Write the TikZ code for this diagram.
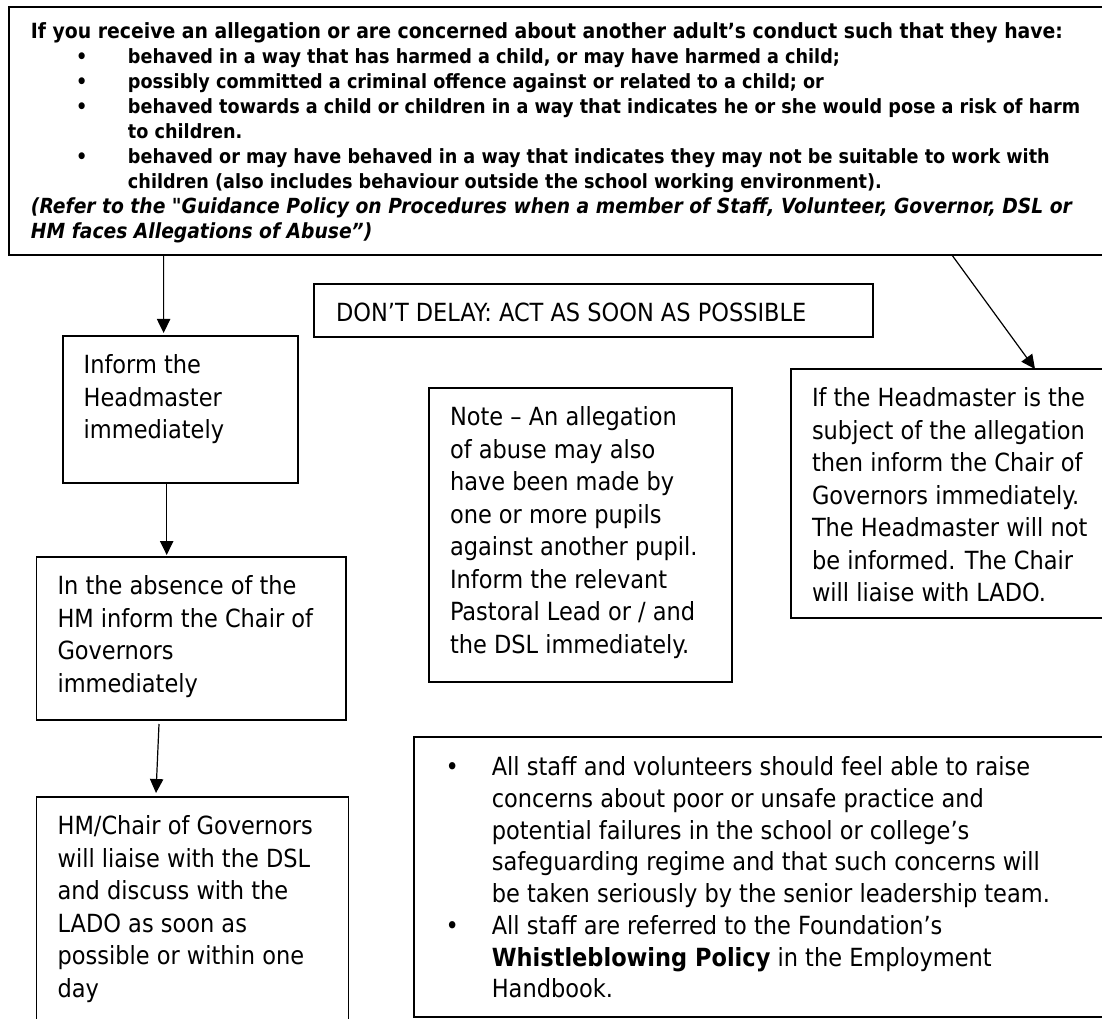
\documentclass[tikz,border=0pt]{standalone}
\usepackage{fontspec}
\setmainfont{DejaVu Sans Condensed}[Ligatures=TeXOff]
\usetikzlibrary{arrows.meta, calc}
\newlength{\px}
\setlength{\px}{0.75pt}
% text box: width, height, lines (top aligned)
\newcommand{\boxtext}[3]{\parbox[c][#2\px][t]{#1\px}{\vspace*{15\px}\strut #3}}
\newenvironment{dotlist}[2]{\begin{list}{\textbullet}{\setlength{\leftmargin}{#1\px}\setlength{\labelwidth}{#2\px}\setlength{\labelsep}{0pt}\setlength{\itemsep}{0pt}\setlength{\parsep}{0pt}\setlength{\topsep}{0pt}\setlength{\partopsep}{0pt}\renewcommand{\makelabel}[1]{##1\hfil}}}{\end{list}}

\begin{document}
\begin{tikzpicture}[x=0.75pt, y=-0.75pt, every node/.style={font=\fontsize{18.75pt}{24.4pt}\selectfont}]
  % Styles
  \tikzstyle{box} = [rectangle, draw, line width=1.25pt, anchor=north west, inner xsep=21\px, inner ysep=0pt, outer sep=0pt]
  \tikzstyle{arrow} = [line width=0.9pt, -{Triangle[length=10.5pt, width=10pt]}]

  \clip (0,0) rectangle (1102,1019);

  % Allegation
  \node (allegation) [box, line width=1.7pt, inner xsep=22\px] at (9,6.7) {\parbox[c][248\px][t]{1180\px}{\vspace*{14.5\px}\fontsize{15.7pt}{18.75pt}\selectfont\bfseries\strut If you receive an allegation or are concerned about another adult’s conduct such that they have:
    \fontsize{14.7pt}{18.75pt}\selectfont
    \begin{dotlist}{97}{52}
      \item behaved in a way that has harmed a child, or may have harmed a child;
      \item possibly committed a criminal offence against or related to a child; or
      \item behaved towards a child or children in a way that indicates he or she would pose a risk of harm\\ to children.
      \item behaved or may have behaved in a way that indicates they may not be suitable to work with\\ children (also includes behaviour outside the school working environment).
    \end{dotlist}
    {\fontsize{15.6pt}{18.75pt}\selectfont\itshape (Refer to the "Guidance Policy on Procedures when a member of Staff, Volunteer, Governor, DSL or\\ HM faces Allegations of Abuse”)}}};

  % Left column
  \node (hm) [box] at (62.7,336) {\boxtext{193}{146.7}{Inform the\\ Headmaster\\ immediately}};
  \node (absence) [box] at (36.5,557) {\boxtext{267.5}{163}{In the absence of the\\ HM inform the Chair of\\ Governors\\ immediately}};
  \node (chair) [box] at (36.6,797) {\boxtext{270}{260}{HM/Chair of Governors\\ will liaise with the DSL\\ and discuss with the\\ LADO as soon as\\ possible or within one\\ day}};

  % Middle and right
  \node (delay) [box, inner xsep=22\px] at (314,284) {\boxtext{515}{53}{DON’T DELAY: ACT AS SOON AS POSSIBLE}};
  \node (note) [box] at (429,388) {\boxtext{261}{294}{Note – An allegation\\ of abuse may also\\ have been made by\\ one or more pupils\\ against another pupil.\\ Inform the relevant\\ Pastoral Lead or / and\\ the DSL immediately.}};
  \node (subject) [box] at (791,369) {\boxtext{288}{249}{If the Headmaster is the\\ subject of the allegation\\ then inform the Chair of\\ Governors immediately.\\ The Headmaster will not\\ be informed. The Chair\\ will liaise with LADO.}};
  \node (whistle) [box] at (414,737) {\parbox[c][280\px][t]{668\px}{\vspace*{16.5\px}\fontsize{18.75pt}{23.8pt}\selectfont
    \begin{dotlist}{56.8}{46.3}
      \item \strut All staff and volunteers should feel able to raise\\ concerns about poor or unsafe practice and\\ potential failures in the school or college’s\\ safeguarding regime and that such concerns will\\ be taken seriously by the senior leadership team.
      \item All staff are referred to the Foundation’s\\ \textbf{Whistleblowing Policy} in the Employment\\ Handbook.
    \end{dotlist}}};

  % Connections
  \draw [arrow] ($(allegation.south west)+(154.6,0)$) -- ($(hm.north west)+(100.9,-3)$);
  \draw [arrow] ($(hm.south west)+(104,0)$) -- ($(absence.north west)+(130.2,-2)$);
  \draw [arrow] ($(absence.south west)+(122.5,4)$) -- ($(chair.north west)+(119.4,-4)$);
  \draw [arrow] ($(allegation.south west)+(942.7,0)$) -- ($(subject.north west)+(244,0)$);
\end{tikzpicture}
\end{document}
